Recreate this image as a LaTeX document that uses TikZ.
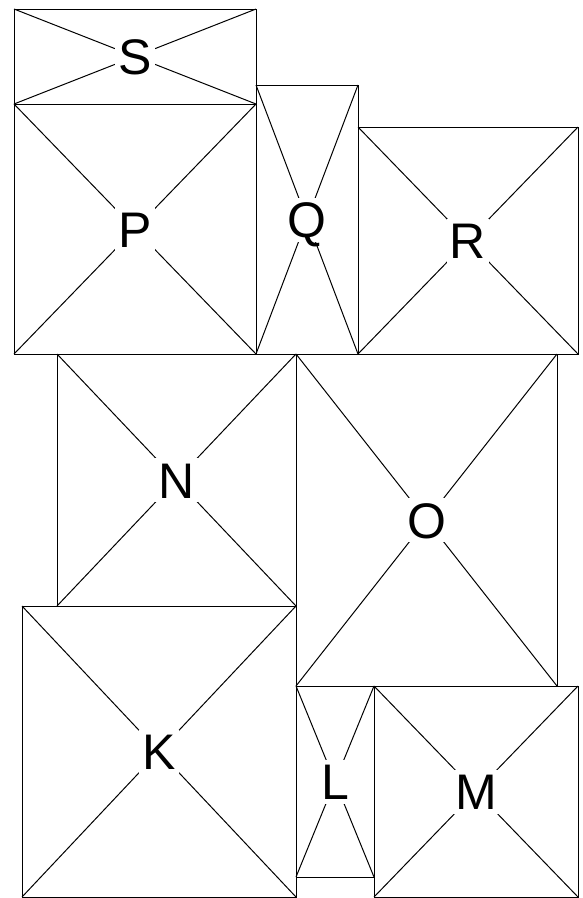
\documentclass[tikz,border=0pt]{standalone}
\usepackage{fontspec}
\setmainfont{Liberation Sans}
\usetikzlibrary{calc}
\newcommand\cellbox[6]{%
  \coordinate (#1a) at (#2,#3);
  \coordinate (#1b) at (#4,#5);
  \draw[cellline] (#1a) rectangle (#1b);
  \draw[cellline] (#1a) -- (#1b);
  \draw[cellline] (#2,#5) -- (#4,#3);
  \node[celllabel] (#1) at ($(#1a)!0.5!(#1b)$) {#6};
}
\begin{document}
\begin{tikzpicture}[x=1pt,y=-1pt,
  cellline/.style={draw=black,line width=1pt},
  celllabel/.style={fill=white,inner xsep=3pt,inner ysep=4pt,text height=36pt,text depth=0pt,
    font=\fontsize{50}{50}\selectfont}]
\useasboundingbox (0,0) rectangle (582,898);
\fill[white] (0,0) rectangle (582,898);
\cellbox{S}{14}{9}{256}{104}{S}
\cellbox{P}{14}{104}{256}{354}{P}
\cellbox{Q}{256}{85}{358}{354}{Q}
\cellbox{R}{358}{127}{578}{354}{R}
\cellbox{N}{57}{354}{296}{606}{N}
\cellbox{O}{296}{354}{557}{686}{O}
\cellbox{K}{22}{606}{296}{897}{K}
\cellbox{L}{296}{686}{374}{877}{L}
\cellbox{M}{374}{686}{578}{897}{M}
\end{tikzpicture}
\end{document}
